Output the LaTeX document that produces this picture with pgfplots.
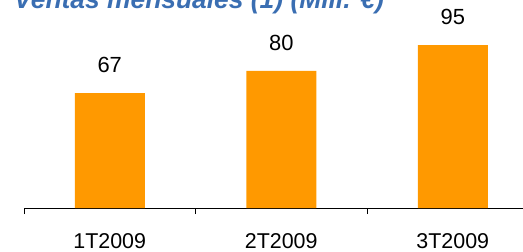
\documentclass[border=0pt]{standalone}
\usepackage{pgfplots}
\pgfplotsset{compat=1.18}
\usepackage{fontspec}
\setmainfont{Liberation Sans}
\definecolor{barorange}{RGB}{255,153,0}
\definecolor{titleblue}{RGB}{58,110,178}
\begin{document}
\begin{tikzpicture}[x=1bp,y=1bp]
\useasboundingbox (0,0) rectangle (523,251);
\begin{axis}[
  at={(24bp,43bp)}, anchor=south west,
  scale only axis, width=514.5bp, height=205.8bp,
  xmin=-0.5, xmax=2.5, ymin=0, ymax=120,
  axis x line*=bottom, hide y axis,
  x axis line style={-, black, line width=0.8pt},
  xtick={0,1,2}, xticklabels={1T2009,2T2009,3T2009},
  major tick length=0pt,
  minor xtick={-0.5,0.5,1.5,2.5}, minor tick length=6bp,
  tick align=outside, tick style={black, line width=0.8pt},
  xticklabel style={font=\fontsize{21.5}{25}\selectfont, anchor=base, yshift=-40bp},
  ytick=\empty,
  ybar, bar width=70bp,
  nodes near coords,
  nodes near coords style={font=\fontsize{22}{26}\selectfont, anchor=base, inner sep=0pt, yshift=20.5bp, text=black},
  /pgf/number format/assume math mode=true,
  clip=false,
]
\addplot[fill=barorange, draw=none] coordinates {(0,67) (1,80) (2,95)};
\end{axis}
\node[anchor=base west, text=titleblue, font=\fontsize{26.5}{30}\selectfont\bfseries\itshape, inner sep=0pt] at (14,243) {Ventas mensuales (1) (Mill. €)};
\end{tikzpicture}
\end{document}
